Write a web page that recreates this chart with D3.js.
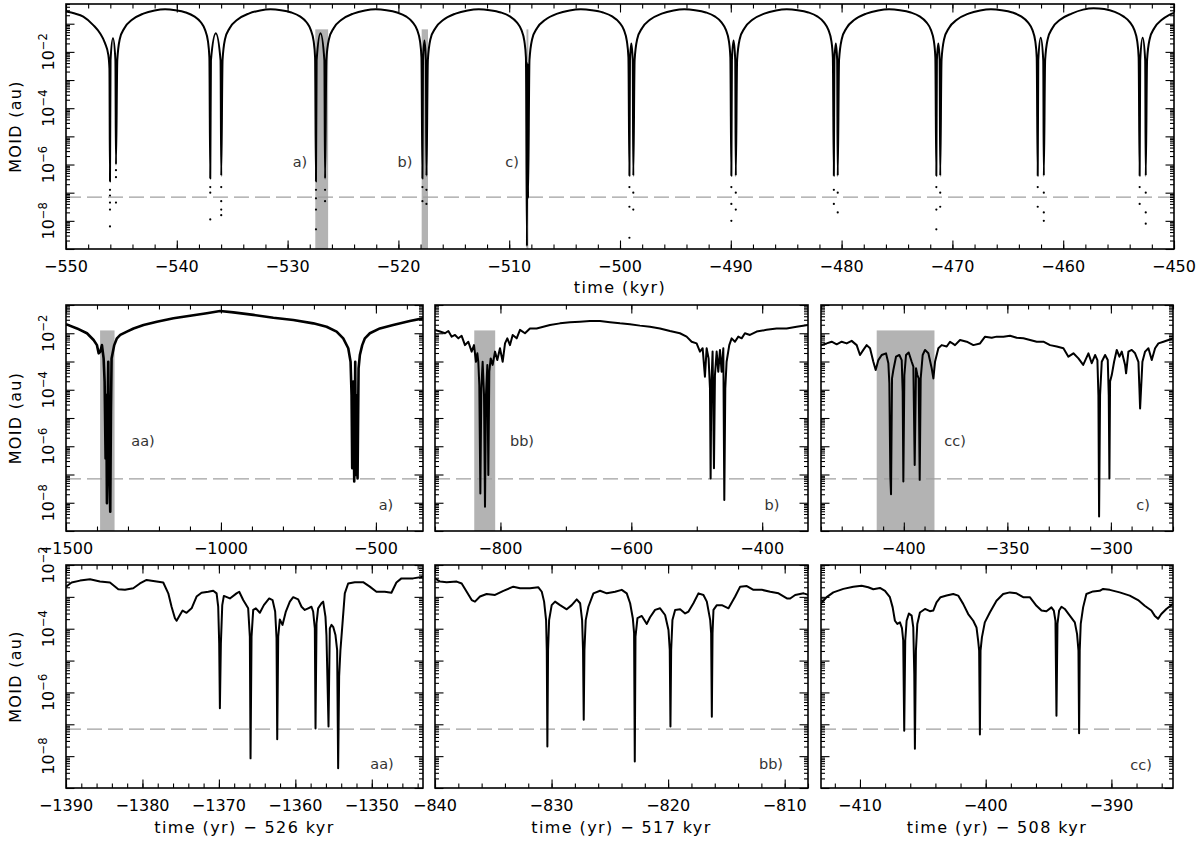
<!DOCTYPE html>
<html><head><meta charset="utf-8">
<script src="https://cdn.jsdelivr.net/npm/d3@7"></script>
<style>body{margin:0;background:#fff}svg{display:block}text{font-family:"DejaVu Sans",sans-serif}</style>
</head><body><svg id="c" width="1200" height="844"></svg>
<script>
// ---------------- DATA (time, log10 MOID [au]) ----------------
const dashLevel = 7e-8;

const topCurve = [
[-550,-0.57],[-549.2,-0.64],[-548.44,-0.75],[-547.54,-1.05],[-546.93,-1.34],[-546.48,-1.69],[-546.18,-2.11],[-546.08,-2.6],
[-546.03,-6.6],[-545.98,-2.3],[-545.76,-1.52],[-545.54,-2.3],[-545.49,-6.0],
[-545.37,-2.29],[-545.15,-1.55],[-544.72,-1.15],[-544.04,-0.86],[-543.02,-0.64],[-542.00,-0.53],[-541.06,-0.49],[-540.13,-0.52],[-539.19,-0.60],[-538.43,-0.74],[-537.83,-0.95],[-537.45,-1.22],[-537.19,-1.62],[-537.06,-2.2],
[-536.98,-6.5],[-536.92,-2.3],[-536.48,-1.34],[-536.05,-2.3],[-535.99,-6.4],
[-535.87,-2.29],[-535.65,-1.55],[-535.22,-1.15],[-534.54,-0.86],[-533.51,-0.64],[-532.48,-0.53],[-531.54,-0.49],[-530.60,-0.52],[-529.66,-0.60],[-528.89,-0.74],[-528.29,-0.95],[-527.91,-1.22],[-527.65,-1.62],[-527.52,-2.2],
[-527.44,-6.6],[-527.38,-2.3],[-527.03,-1.34],[-526.68,-2.3],[-526.62,-6.5],
[-526.50,-2.29],[-526.27,-1.55],[-525.83,-1.15],[-525.13,-0.86],[-524.07,-0.64],[-523.02,-0.53],[-522.05,-0.49],[-521.08,-0.52],[-520.12,-0.60],[-519.32,-0.74],[-518.71,-0.95],[-518.31,-1.22],[-518.05,-1.62],[-517.92,-2.2],
[-517.83,-6.5],[-517.78,-2.3],[-517.65,-1.6],[-517.52,-2.3],[-517.47,-6.4],
[-517.34,-2.29],[-517.11,-1.55],[-516.65,-1.15],[-515.93,-0.86],[-514.84,-0.64],[-513.75,-0.53],[-512.75,-0.49],[-511.76,-0.52],[-510.76,-0.60],[-509.94,-0.74],[-509.31,-0.95],[-508.90,-1.22],[-508.63,-1.62],[-508.49,-2.2],
[-508.40,-8.9],[-508.36,-2.4],[-508.34,-2.4],[-508.30,-7.2],
[-508.17,-2.29],[-507.93,-1.55],[-507.48,-1.15],[-506.74,-0.86],[-505.65,-0.64],[-504.55,-0.53],[-503.54,-0.49],[-502.54,-0.52],[-501.53,-0.60],[-500.71,-0.74],[-500.07,-0.95],[-499.65,-1.22],[-499.38,-1.62],[-499.24,-2.2],
[-499.15,-6.4],[-499.10,-2.3],[-498.98,-1.7],[-498.85,-2.3],[-498.80,-6.4],
[-498.68,-2.29],[-498.45,-1.55],[-498.00,-1.15],[-497.30,-0.86],[-496.23,-0.64],[-495.17,-0.53],[-494.20,-0.49],[-493.22,-0.52],[-492.25,-0.60],[-491.45,-0.74],[-490.84,-0.95],[-490.44,-1.22],[-490.17,-1.62],[-490.04,-2.2],
[-489.95,-6.4],[-489.90,-2.3],[-489.75,-1.6],[-489.60,-2.3],[-489.55,-6.4],
[-489.43,-2.29],[-489.20,-1.55],[-488.75,-1.15],[-488.05,-0.86],[-486.98,-0.64],[-485.92,-0.53],[-484.95,-0.49],[-483.97,-0.52],[-483.00,-0.60],[-482.20,-0.74],[-481.59,-0.95],[-481.19,-1.22],[-480.92,-1.62],[-480.79,-2.2],
[-480.70,-6.4],[-480.65,-2.3],[-480.52,-1.7],[-480.40,-2.3],[-480.35,-6.4],
[-480.23,-2.29],[-479.99,-1.55],[-479.55,-1.15],[-478.84,-0.86],[-477.77,-0.64],[-476.70,-0.53],[-475.72,-0.49],[-474.74,-0.52],[-473.76,-0.60],[-472.96,-0.74],[-472.34,-0.95],[-471.94,-1.22],[-471.67,-1.62],[-471.54,-2.2],
[-471.45,-6.4],[-471.40,-2.3],[-471.27,-1.7],[-471.15,-2.3],[-471.10,-6.4],
[-470.98,-2.29],[-470.75,-1.55],[-470.31,-1.15],[-469.60,-0.86],[-468.55,-0.64],[-467.49,-0.53],[-466.52,-0.49],[-465.56,-0.52],[-464.59,-0.60],[-463.80,-0.74],[-463.18,-0.95],[-462.78,-1.22],[-462.52,-1.62],[-462.39,-2.2],
[-462.30,-6.4],[-462.25,-2.3],[-462.03,-1.5],[-461.80,-2.3],[-461.75,-6.4],
[-461.63,-2.29],[-461.40,-1.55],[-460.97,-1.15],[-460.28,-0.86],[-459.24,-0.64],[-458.20,-0.50],[-457.25,-0.45],[-456.30,-0.48],[-455.35,-0.58],[-454.57,-0.74],[-453.97,-0.95],[-453.58,-1.22],[-453.32,-1.62],[-453.19,-2.2],
[-453.10,-6.4],[-453.05,-2.3],[-452.83,-1.5],[-452.60,-2.3],[-452.55,-6.4],
[-452.43,-2.29],[-452.2,-1.55],[-451.77,-1.15],[-451.1,-0.86],[-450.5,-0.70],[-450,-0.62]
];

const topDots = [
[-546.03,-6.9],[-546.03,-7.1],[-546.03,-7.35],[-546.03,-7.6],[-546.03,-8.2],
[-545.49,-6.2],[-545.49,-6.45],[-545.49,-7.35],
[-536.98,-6.8],[-536.98,-7.0],[-536.98,-7.95],
[-535.99,-6.8],[-535.99,-7.3],[-535.99,-7.6],[-535.99,-7.8],
[-527.44,-6.9],[-527.44,-7.2],[-527.44,-7.6],[-527.44,-8.3],
[-526.62,-6.9],[-526.62,-7.3],
[-517.83,-6.8],[-517.83,-7.3],[-517.47,-6.9],[-517.47,-7.4],
[-499.15,-6.8],[-499.15,-7.5],[-499.15,-8.6],[-498.80,-7.0],[-498.80,-7.6],
[-489.95,-6.8],[-489.95,-7.4],[-489.95,-8.0],[-489.55,-7.0],[-489.55,-7.6],
[-480.70,-6.9],[-480.70,-7.4],[-480.35,-7.0],[-480.35,-7.7],
[-471.45,-6.8],[-471.45,-7.6],[-471.45,-8.3],[-471.10,-7.0],[-471.10,-7.5],
[-462.30,-6.8],[-462.30,-7.5],[-461.75,-7.0],[-461.75,-7.7],[-461.75,-8.0],
[-453.10,-6.8],[-453.10,-7.4],[-452.55,-7.0],[-452.55,-7.7],[-452.55,-8.1]
];

const midA = [
[-1500,-1.68],[-1464.6,-1.83],[-1432.3,-2.00],[-1410.9,-2.24],[-1400.1,-2.42],[-1394.7,-2.71],[-1389.4,-2.65],[-1384.0,-2.42],[-1378.6,-2.89],[-1375.4,-3.71],[-1372.2,-6.43],[-1370.0,-4.19],[-1367.9,-8.02],[-1365.8,-5.13],[-1363.6,-3.01],[-1361.5,-5.96],[-1359.3,-7.25],[-1357.2,-8.32],[-1355.0,-4.78],[-1352.9,-2.89],[-1349.6,-2.71],[-1344.3,-2.42],[-1335.7,-2.18],[-1324.9,-2.06],[-1303.5,-1.94],[-1282.0,-1.83],[-1249.8,-1.71],[-1206.8,-1.59],[-1153.1,-1.47],[-1099.4,-1.38],[-1045.7,-1.29],[-1002.7,-1.21],[-959.8,-1.26],[-895.3,-1.35],[-830.9,-1.45],[-766.5,-1.53],[-702.0,-1.65],[-659.1,-1.77],[-626.8,-1.94],[-605.4,-2.18],[-589.2,-2.53],[-581.7,-3.01],[-578.5,-4.19],[-576.4,-6.78],[-573.1,-3.71],[-569.9,-7.25],[-566.7,-3.01],[-564.5,-7.02],[-562.4,-4.19],[-559.2,-7.14],[-555.9,-3.24],[-551.7,-2.77],[-544.1,-2.42],[-535.5,-2.18],[-519.4,-2.00],[-487.2,-1.83],[-444.3,-1.71],[-390.6,-1.57],[-347.6,-1.47]
];

const midB = [
[-900.0,-1.88],[-892.4,-1.94],[-884.7,-2.00],[-879.6,-1.92],[-874.5,-2.12],[-869.4,-2.06],[-864.3,-2.18],[-859.3,-2.09],[-854.2,-2.42],[-849.1,-2.30],[-844.0,-2.65],[-840.4,-2.42],[-837.4,-3.01],[-835.3,-2.71],[-833.8,-3.01],[-832.3,-3.83],[-830.7,-7.67],[-829.2,-3.95],[-827.2,-3.01],[-825.1,-4.19],[-823.6,-8.14],[-822.1,-4.19],[-820.0,-3.12],[-818.5,-7.02],[-817.0,-3.36],[-814.9,-2.89],[-811.9,-3.12],[-808.3,-2.65],[-804.8,-2.95],[-800.7,-2.53],[-796.6,-3.01],[-793.0,-2.36],[-789.5,-2.18],[-785.4,-2.42],[-781.3,-2.06],[-775.2,-2.18],[-770.1,-1.88],[-762.5,-2.00],[-754.9,-1.83],[-744.7,-1.83],[-734.5,-1.77],[-724.3,-1.71],[-709.0,-1.65],[-693.7,-1.61],[-678.5,-1.59],[-663.2,-1.57],[-647.9,-1.57],[-632.6,-1.61],[-617.3,-1.65],[-602.1,-1.68],[-586.8,-1.73],[-571.5,-1.77],[-556.2,-1.83],[-540.9,-1.92],[-525.7,-2.00],[-515.5,-2.12],[-507.8,-2.30],[-500.2,-2.36],[-495.1,-2.65],[-491.0,-2.53],[-487.5,-3.54],[-484.9,-2.53],[-481.9,-2.89],[-479.8,-3.95],[-478.8,-7.14],[-477.8,-3.95],[-475.8,-2.65],[-473.7,-6.78],[-472.2,-3.48],[-469.6,-2.65],[-467.1,-3.36],[-464.5,-2.59],[-462.0,-3.36],[-459.4,-2.53],[-457.9,-7.90],[-456.4,-3.95],[-454.4,-3.01],[-450.3,-2.42],[-446.7,-2.18],[-441.6,-2.30],[-436.5,-2.12],[-431.4,-2.18],[-426.4,-2.00],[-418.7,-2.06],[-408.5,-1.94],[-393.3,-1.88],[-378.0,-1.83],[-362.7,-1.83],[-347.4,-1.77],[-330,-1.71]
];

const midC = [
[-440,-2.42],[-437.26,-2.36],[-434.85,-2.30],[-432.43,-2.39],[-430.02,-2.30],[-427.60,-2.36],[-425.19,-2.27],[-422.77,-2.42],[-421.16,-2.77],[-419.55,-2.59],[-417.94,-2.42],[-416.33,-2.53],[-414.72,-3.01],[-413.59,-3.30],[-412.30,-2.95],[-410.69,-2.77],[-408.60,-2.71],[-407.47,-3.06],[-406.99,-3.77],[-406.51,-7.08],[-406.18,-7.70],[-405.70,-3.60],[-405.06,-3.30],[-403.77,-2.83],[-402.16,-2.77],[-401.03,-2.95],[-400.55,-4.07],[-400.23,-7.25],[-399.74,-3.48],[-398.94,-2.77],[-397.65,-2.68],[-396.20,-3.01],[-395.39,-3.18],[-394.75,-6.66],[-394.11,-3.24],[-393.46,-3.48],[-392.82,-3.60],[-392.33,-7.19],[-391.85,-3.60],[-390.89,-2.77],[-389.76,-2.59],[-388.15,-2.71],[-386.54,-3.24],[-385.73,-3.60],[-384.93,-3.01],[-383.32,-2.53],[-381.71,-2.42],[-379.29,-2.47],[-377.68,-2.30],[-375.27,-2.42],[-372.85,-2.24],[-369.63,-2.30],[-366.41,-2.42],[-363.19,-2.36],[-360.77,-2.12],[-357.55,-2.16],[-355.14,-2.12],[-351.92,-2.12],[-348.70,-2.09],[-345.48,-2.16],[-342.25,-2.18],[-339.03,-2.24],[-335.81,-2.30],[-332.59,-2.30],[-329.37,-2.42],[-326.15,-2.47],[-322.93,-2.53],[-320.52,-2.83],[-318.10,-2.71],[-315.68,-2.89],[-313.37,-3.12],[-310.85,-2.71],[-309.24,-3.06],[-307.63,-2.77],[-306.51,-2.95],[-306.02,-4.19],[-305.70,-8.49],[-305.22,-4.19],[-304.41,-3.01],[-302.80,-2.77],[-301.51,-2.95],[-301.03,-4.19],[-300.71,-7.14],[-300.39,-3.71],[-299.58,-3.48],[-298.45,-3.01],[-297.17,-2.59],[-295.88,-2.83],[-294.75,-2.65],[-293.14,-3.12],[-292.66,-3.42],[-291.53,-2.65],[-289.92,-2.59],[-288.31,-2.71],[-286.70,-3.01],[-286.22,-3.95],[-285.89,-4.66],[-285.41,-3.95],[-284.77,-3.01],[-283.48,-2.65],[-281.87,-2.53],[-280.26,-2.95],[-278.65,-2.53],[-277.04,-2.36],[-274.62,-2.30],[-272.21,-2.24],[-269.79,-2.18]
];

const botA = [
[-1390.0,-2.68],[-1389.26,-2.55],[-1388.17,-2.49],[-1386.86,-2.45],[-1385.56,-2.52],[-1384.25,-2.55],[-1383.16,-2.76],[-1382.29,-2.78],[-1381.20,-2.73],[-1380.33,-2.58],[-1379.46,-2.47],[-1378.15,-2.52],[-1377.28,-2.55],[-1376.62,-2.89],[-1376.19,-3.31],[-1375.75,-3.67],[-1375.53,-3.75],[-1375.10,-3.57],[-1374.75,-3.43],[-1374.23,-3.50],[-1373.57,-3.36],[-1372.92,-2.99],[-1372.27,-2.87],[-1371.39,-2.84],[-1370.74,-2.81],[-1370.30,-2.89],[-1370.09,-3.31],[-1369.96,-4.46],[-1369.87,-6.50],[-1369.74,-4.46],[-1369.56,-3.26],[-1369.35,-2.97],[-1368.56,-3.05],[-1367.69,-2.89],[-1367.34,-2.84],[-1366.82,-3.10],[-1366.17,-3.36],[-1365.95,-4.25],[-1365.86,-8.07],[-1365.73,-4.25],[-1365.51,-3.41],[-1365.16,-3.36],[-1364.64,-3.50],[-1364.12,-3.26],[-1363.42,-3.05],[-1362.98,-3.10],[-1362.64,-3.46],[-1362.46,-4.30],[-1362.37,-7.47],[-1362.24,-4.25],[-1362.03,-3.71],[-1361.68,-3.88],[-1361.24,-3.46],[-1360.72,-3.15],[-1360.28,-3.01],[-1359.63,-3.08],[-1359.19,-3.31],[-1358.76,-3.41],[-1358.32,-3.36],[-1357.89,-3.31],[-1357.67,-3.46],[-1357.45,-3.99],[-1357.36,-7.13],[-1357.23,-3.83],[-1357.02,-3.36],[-1356.58,-3.20],[-1356.36,-3.15],[-1356.06,-3.62],[-1355.93,-4.20],[-1355.66,-7.07],[-1355.49,-3.99],[-1355.27,-3.88],[-1355.05,-3.94],[-1354.75,-4.20],[-1354.53,-4.67],[-1354.40,-8.38],[-1354.27,-5.50],[-1354.10,-4.67],[-1353.83,-3.83],[-1353.53,-2.89],[-1353.09,-2.58],[-1352.22,-2.54],[-1351.13,-2.54],[-1350.26,-2.68],[-1349.39,-2.84],[-1348.30,-2.84],[-1347.43,-2.87],[-1346.78,-2.55],[-1346.12,-2.42],[-1344.60,-2.42],[-1343.30,-2.37]
];

const botB = [
[-840.00,-2.42],[-839.57,-2.52],[-839.00,-2.54],[-838.14,-2.52],[-837.71,-2.58],[-837.28,-2.84],[-836.85,-3.10],[-836.57,-3.15],[-836.14,-2.99],[-835.57,-2.91],[-834.85,-2.94],[-834.13,-2.81],[-833.28,-2.68],[-832.70,-2.73],[-831.85,-2.73],[-831.13,-2.70],[-830.84,-2.84],[-830.64,-3.15],[-830.47,-3.73],[-830.41,-4.67],[-830.36,-7.70],[-830.30,-4.67],[-830.21,-3.73],[-829.99,-3.26],[-829.70,-3.15],[-829.27,-3.26],[-828.70,-3.39],[-828.27,-3.26],[-827.84,-3.08],[-827.55,-3.20],[-827.38,-3.73],[-827.30,-4.67],[-827.24,-6.86],[-827.18,-4.67],[-827.07,-3.73],[-826.84,-3.31],[-826.41,-2.89],[-825.84,-2.81],[-825.26,-2.89],[-824.55,-2.84],[-823.98,-2.78],[-823.55,-2.89],[-823.26,-3.20],[-823.03,-3.67],[-822.92,-4.14],[-822.86,-8.17],[-822.80,-4.25],[-822.63,-3.67],[-822.26,-3.60],[-821.83,-3.85],[-821.55,-3.64],[-821.12,-3.41],[-820.69,-3.36],[-820.26,-3.57],[-819.97,-4.04],[-819.86,-4.67],[-819.80,-7.07],[-819.74,-4.67],[-819.63,-3.73],[-819.40,-3.41],[-818.97,-3.39],[-818.54,-3.52],[-818.25,-3.46],[-817.83,-3.20],[-817.40,-2.89],[-816.97,-2.94],[-816.68,-3.15],[-816.39,-3.73],[-816.31,-4.14],[-816.25,-6.76],[-816.19,-4.14],[-816.11,-3.41],[-815.82,-3.26],[-815.39,-3.26],[-814.82,-3.36],[-814.25,-2.99],[-813.82,-2.68],[-813.25,-2.66],[-812.68,-2.78],[-811.96,-2.78],[-811.24,-2.84],[-810.53,-2.89],[-809.81,-3.05],[-809.53,-3.05],[-809.10,-2.94],[-808.38,-2.89],[-807.95,-2.94]
];

const botC = [
[-413.13,-3.22],[-412.65,-3.01],[-412.12,-2.86],[-411.32,-2.75],[-410.53,-2.68],[-409.87,-2.65],[-409.34,-2.70],[-408.94,-2.76],[-408.41,-2.72],[-408.01,-2.81],[-407.62,-3.01],[-407.40,-3.33],[-407.22,-3.75],[-407.03,-3.85],[-406.82,-3.80],[-406.66,-3.98],[-406.56,-4.37],[-406.48,-7.20],[-406.40,-4.37],[-406.29,-3.75],[-406.11,-3.52],[-405.89,-3.59],[-405.76,-3.96],[-405.68,-5.42],[-405.63,-7.77],[-405.55,-4.69],[-405.44,-3.85],[-405.23,-3.49],[-404.83,-3.38],[-404.44,-3.45],[-404.17,-3.43],[-403.91,-3.17],[-403.59,-3.01],[-403.11,-2.96],[-402.58,-2.91],[-402.19,-2.96],[-401.79,-3.22],[-401.39,-3.54],[-400.99,-3.75],[-400.73,-3.96],[-400.60,-4.37],[-400.52,-4.69],[-400.46,-7.32],[-400.41,-4.69],[-400.30,-4.27],[-400.07,-3.80],[-399.67,-3.49],[-399.14,-3.12],[-398.61,-2.91],[-398.08,-2.86],[-397.55,-2.89],[-397.02,-3.01],[-396.49,-3.01],[-395.96,-3.28],[-395.56,-3.43],[-395.17,-3.45],[-394.77,-3.33],[-394.58,-3.43],[-394.45,-3.75],[-394.37,-6.73],[-394.29,-3.85],[-394.16,-3.43],[-393.97,-3.31],[-393.71,-3.38],[-393.31,-3.59],[-392.91,-3.80],[-392.73,-4.17],[-392.62,-4.69],[-392.57,-7.28],[-392.52,-4.69],[-392.44,-3.85],[-392.25,-3.33],[-391.99,-2.91],[-391.46,-2.83],[-390.93,-2.81],[-390.66,-2.75],[-390.13,-2.78],[-389.34,-2.86],[-388.54,-2.96],[-387.88,-3.10],[-387.35,-3.28],[-386.82,-3.43],[-386.56,-3.59],[-386.29,-3.69],[-386.03,-3.54],[-385.63,-3.38],[-385.10,-3.22]
];

// shaded intervals (time)
const topBands = [[-527.5,-526.343],[-517.9,-517.33],[-508.44,-508.27]];
const midBandA = [-1390,-1343.3], midBandB = [-840,-808], midBandC = [-413.1,-385.2];

// tick labels
const topXTicks = [-550,-540,-530,-520,-510,-500,-490,-480,-470,-460,-450];
const midAXTicks = [-1500,-1000,-500];
const midBXTicks = [-800,-600,-400];
const midCXTicks = [-400,-350,-300];
const botAXTicks = [-1390,-1380,-1370,-1360,-1350];
const botBXTicks = [-840,-830,-820,-810];
const botCXTicks = [-410,-400,-390];
const yLabelExps = [-2,-4,-6,-8];

// ---------------- DRAWING ----------------
const svg = d3.select("#c");
const defs = svg.append("defs");
const MINUS = "\u2212";
const fmt = v => (v<0?MINUS:"") + Math.abs(v);
let clipN = 0;

function drawPanel(p){
  const [x0,y0,x1,y1] = p.box;
  const x = d3.scaleLinear().domain(p.xDomain).range([x0,x1]);
  const y = d3.scaleLog().domain(p.yDomain).range([y1,y0]);
  const id = "clip"+(clipN++);
  defs.append("clipPath").attr("id",id).append("rect").attr("x",x0).attr("y",y0).attr("width",x1-x0).attr("height",y1-y0);
  const g = svg.append("g");
  const inner = g.append("g").attr("clip-path",`url(#${id})`);
  (p.bands||[]).forEach(b=>{
    inner.append("rect").attr("x",x(b[0])).attr("width",Math.max(1.5,x(b[1])-x(b[0])))
      .attr("y",y(p.bandTop)).attr("height",y1-y(p.bandTop)).attr("fill","#b3b3b3");
  });
  inner.append("line").attr("x1",x0).attr("x2",x1).attr("y1",y(dashLevel)).attr("y2",y(dashLevel))
    .attr("stroke","#a0a0a0").attr("stroke-width",1.3).attr("stroke-dasharray","15,6");
  const line = d3.line().x(d=>x(d[0])).y(d=>y(Math.pow(10,d[1]))).curve(p.curve||d3.curveLinear);
  inner.append("path").datum(p.data).attr("d",line).attr("fill","none").attr("stroke","#000")
    .attr("stroke-width",p.sw||2).attr("stroke-linejoin","round");
  if(p.dots){
    inner.selectAll("circle.d").data(p.dots).enter().append("circle")
      .attr("cx",d=>x(d[0])).attr("cy",d=>y(Math.pow(10,d[1]))).attr("r",1.1).attr("fill","#000");
  }
  const [d0,d1] = p.xDomain;
  const minor = d3.range(Math.ceil(d0/p.xMinor)*p.xMinor, d1+1e-9, p.xMinor);
  const major = d3.range(Math.ceil(d0/p.xMajorStep)*p.xMajorStep, d1+1e-9, p.xMajorStep);
  const yMaj=[], yMin=[];
  for(let n=-10;n<=1;n++){
    const v=Math.pow(10,n);
    if(v>=p.yDomain[0]*0.999 && v<=p.yDomain[1]*1.001) yMaj.push(v);
    for(let k=2;k<=9;k++){const w=k*v; if(w>p.yDomain[0]&&w<p.yDomain[1]) yMin.push(w);}
  }
  const tk = (axis, vals, len, tx) => {
    const a = g.append("g").attr("transform",tx).call(axis.tickValues(vals).tickSize(-len).tickFormat(""));
    a.select(".domain").remove();
    a.selectAll(".tick line").attr("stroke","#000").attr("stroke-width",1.1);
  };
  tk(d3.axisBottom(x), minor, 4.5, `translate(0,${y1})`);
  tk(d3.axisBottom(x), major, 8.5, `translate(0,${y1})`);
  tk(d3.axisTop(x), minor, 4.5, `translate(0,${y0})`);
  tk(d3.axisTop(x), major, 8.5, `translate(0,${y0})`);
  tk(d3.axisLeft(y), yMin, 4, `translate(${x0},0)`);
  tk(d3.axisLeft(y), yMaj, 8.5, `translate(${x0},0)`);
  tk(d3.axisRight(y), yMin, 4, `translate(${x1},0)`);
  tk(d3.axisRight(y), yMaj, 8.5, `translate(${x1},0)`);
  g.append("rect").attr("x",x0).attr("y",y0).attr("width",x1-x0).attr("height",y1-y0)
    .attr("fill","none").attr("stroke","#000").attr("stroke-width",1.6);
  p.xLabels.forEach(v=>{
    g.append("text").attr("x",x(v)).attr("y",y1+23).attr("text-anchor","middle")
      .attr("font-size",16).attr("fill","#000").text(fmt(v));
  });
  if(p.yLabels){
    yLabelExps.forEach(e=>{
      const yy=y(Math.pow(10,e));
      const t=g.append("text").attr("transform",`translate(${x0-12},${yy}) rotate(-90)`)
        .attr("text-anchor","middle").attr("font-size",16).attr("fill","#000");
      t.append("tspan").text("10");
      t.append("tspan").attr("dy",-7).attr("font-size",11.5).text(MINUS+Math.abs(e));
    });
    g.append("text").attr("transform",`translate(21,${(y0+y1)/2}) rotate(-90)`)
      .attr("text-anchor","middle").attr("font-size",16).attr("letter-spacing",1.3).text("MOID (au)");
  }
  if(p.xTitle){
    g.append("text").attr("x",(x0+x1)/2).attr("y",p.xTitleY).attr("text-anchor","middle")
      .attr("font-size",16).attr("letter-spacing",1.4).text(p.xTitle);
  }
  (p.notes||[]).forEach(n=>{
    g.append("text").attr("x",n[1]).attr("y",n[2]).attr("text-anchor","middle")
      .attr("font-size",14.5).attr("fill","#333").text(n[0]);
  });
}

const MID=[305,531], BOT=[565,788];
const colX=[[66,423],[435,808],[821,1173]];

drawPanel({box:[66,4,1174,249], xDomain:[-550,-450], yDomain:[1e-9,Math.pow(10,-0.3)],
  xMinor:2, xMajorStep:10, xLabels:topXTicks, yLabels:true, data:topCurve, dots:topDots,
  curve:d3.curveMonotoneX, sw:2, bands:topBands, bandTop:Math.pow(10,-1.2),
  xTitle:"time (kyr)", xTitleY:293, notes:[["a)",300,167],["b)",405,167],["c)",512,167]]});

drawPanel({box:[colX[0][0],MID[0],colX[0][1],MID[1]], xDomain:[-1500,-348], yDomain:[1e-9,1e-1],
  xMinor:100, xMajorStep:500, xLabels:midAXTicks, yLabels:true, data:midA, sw:2.6,
  bands:[midBandA], bandTop:Math.pow(10,-1.9), notes:[["aa)",143,446],["a)",386,510]]});
drawPanel({box:[colX[1][0],MID[0],colX[1][1],MID[1]], xDomain:[-900,-330], yDomain:[1e-9,1e-1],
  xMinor:100, xMajorStep:200, xLabels:midBXTicks, data:midB, sw:2,
  bands:[midBandB], bandTop:Math.pow(10,-1.9), notes:[["bb)",522,446],["b)",772,510]]});
drawPanel({box:[colX[2][0],MID[0],colX[2][1],MID[1]], xDomain:[-440,-270], yDomain:[1e-9,1e-1],
  xMinor:10, xMajorStep:50, xLabels:midCXTicks, data:midC, sw:2,
  bands:[midBandC], bandTop:Math.pow(10,-1.9), notes:[["cc)",955,446],["c)",1143,510]]});

drawPanel({box:[colX[0][0],BOT[0],colX[0][1],BOT[1]], xDomain:[-1390,-1343.3], yDomain:[1e-9,1e-2],
  xMinor:2, xMajorStep:10, xLabels:botAXTicks, yLabels:true, data:botA, sw:2,
  xTitle:"time (yr) \u2212 526 kyr", xTitleY:833, notes:[["aa)",382,769]]});
drawPanel({box:[colX[1][0],BOT[0],colX[1][1],BOT[1]], xDomain:[-840,-808], yDomain:[1e-9,1e-2],
  xMinor:2, xMajorStep:10, xLabels:botBXTicks, data:botB, sw:2,
  xTitle:"time (yr) \u2212 517 kyr", xTitleY:833, notes:[["bb)",771,769]]});
drawPanel({box:[colX[2][0],BOT[0],colX[2][1],BOT[1]], xDomain:[-413.1,-385.1], yDomain:[1e-9,1e-2],
  xMinor:2, xMajorStep:10, xLabels:botCXTicks, data:botC, sw:2,
  xTitle:"time (yr) \u2212 508 kyr", xTitleY:833, notes:[["cc)",1141,770]]});
</script></body></html>
